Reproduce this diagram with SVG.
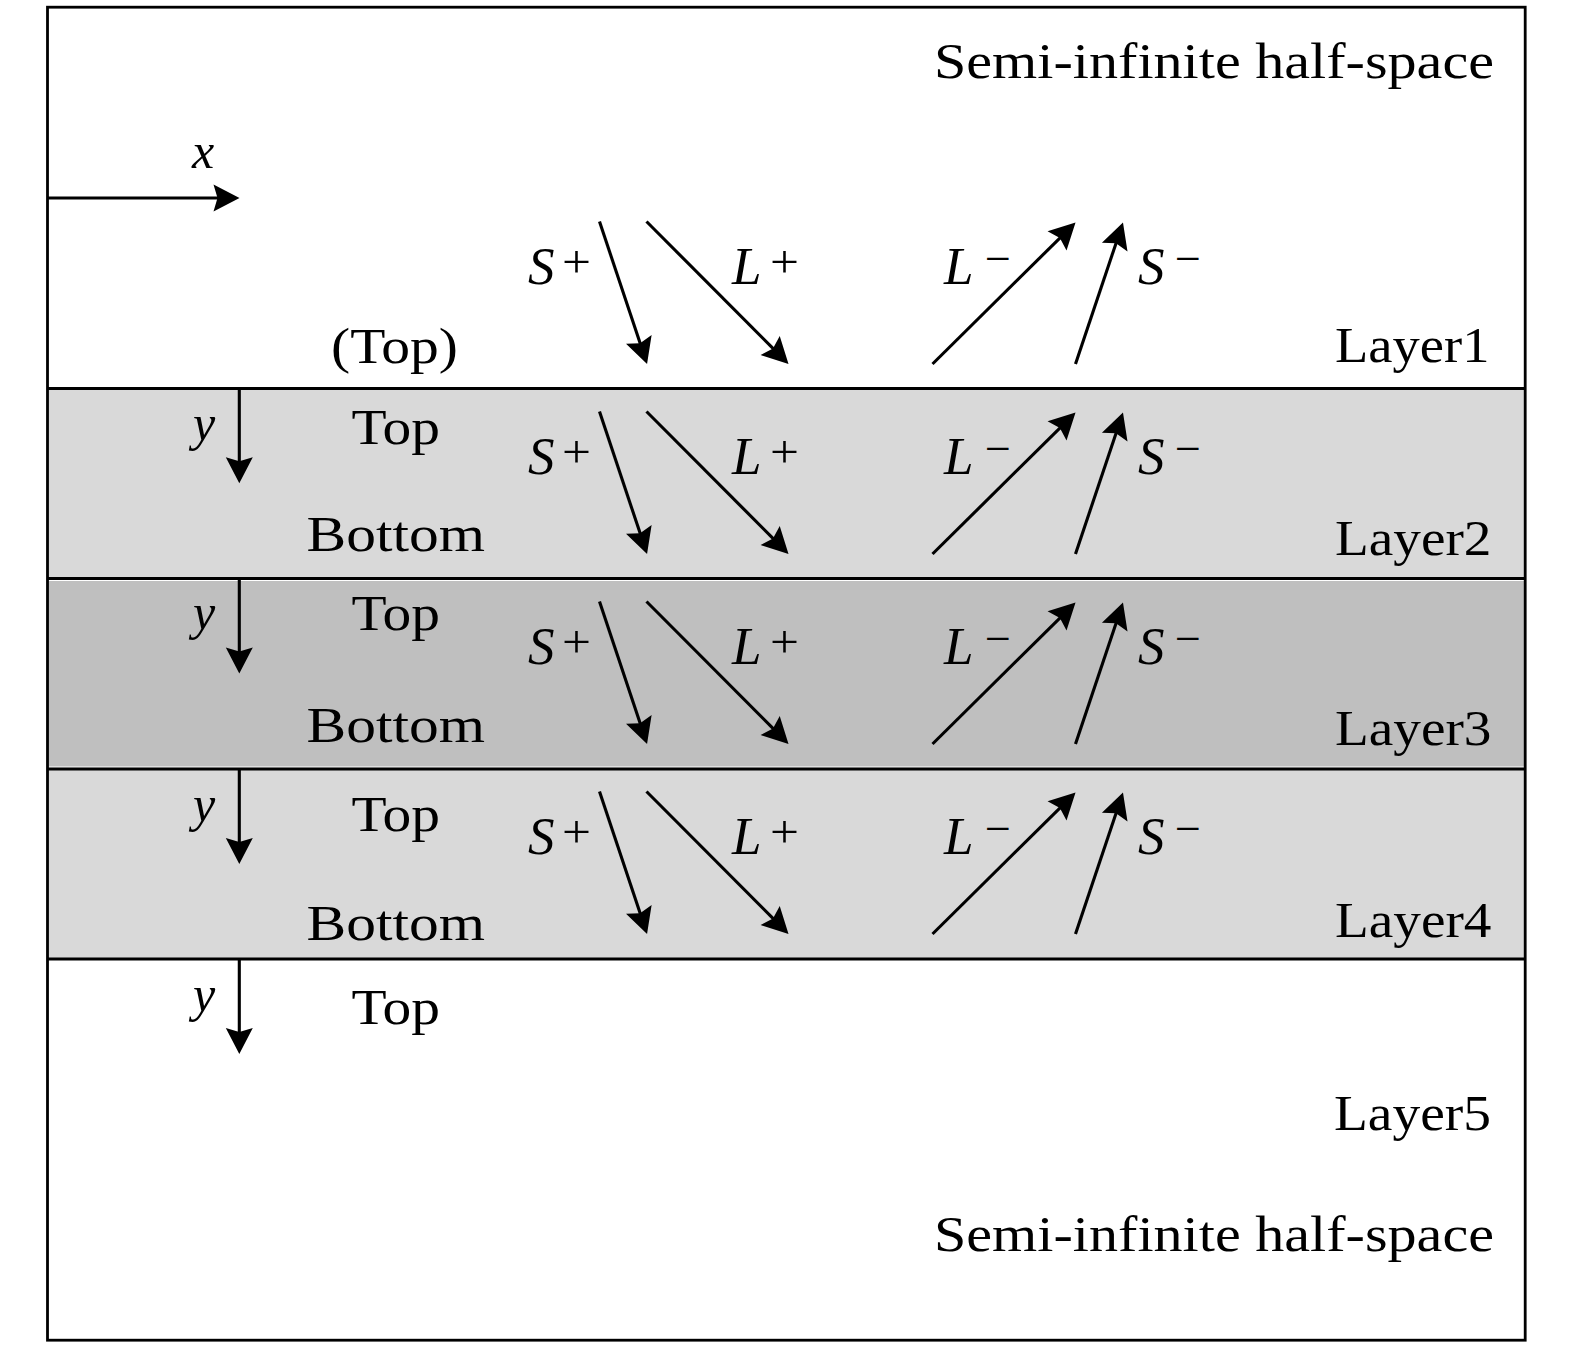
<svg xmlns="http://www.w3.org/2000/svg" width="1575" height="1348" viewBox="0 0 1575 1348">
<style>
.bd{stroke:#000;stroke-width:2.8;fill:none}
.wl{stroke:#fff;stroke-width:1.4;fill:none}
.ar{stroke:#000;stroke-width:3.1;fill:none;marker-end:url(#ah)}
text{font-family:"Liberation Serif","Times New Roman",serif;font-size:50px;fill:#000}
.it{font-style:italic}
.ml{font-size:53px}
.sup{font-size:46px;font-style:normal}
</style>
<defs>
<marker id="ah" markerUnits="userSpaceOnUse" markerWidth="40" markerHeight="40" refX="0" refY="0" orient="auto" overflow="visible">
<path d="M-5,-13.5 L21,0 L-5,13.5 L-1,0 Z" fill="#000"/>
</marker>
<g id="waves">
<line class="ar" x1="599.5" y1="221.5" x2="640.4" y2="344.1"/>
<line class="ar" x1="646.5" y1="221.5" x2="773.7" y2="349.1"/>
<line class="ar" x1="932.5" y1="364" x2="1060.6" y2="237.3"/>
<line class="ar" x1="1075.5" y1="364" x2="1116.3" y2="242.4"/>
</g>
<g id="wlabels">
<text class="ml"><tspan class="it" x="528" y="284">S</tspan><tspan class="sup" x="562" y="277" textLength="29" lengthAdjust="spacingAndGlyphs">+</tspan></text>
<text class="ml"><tspan class="it" x="732" y="284">L</tspan><tspan class="sup" x="770" y="277" textLength="29" lengthAdjust="spacingAndGlyphs">+</tspan></text>
<text class="ml"><tspan class="it" x="944" y="284">L</tspan><tspan class="sup" x="985" y="274" textLength="26" lengthAdjust="spacingAndGlyphs">−</tspan></text>
<text class="ml"><tspan class="it" x="1138" y="284">S</tspan><tspan class="sup" x="1175" y="274" textLength="26" lengthAdjust="spacingAndGlyphs">−</tspan></text>
</g>
</defs>

<rect x="0" y="0" width="1575" height="1348" fill="#fff"/>

<g id="layer1">
<text x="934" y="78" textLength="560" lengthAdjust="spacingAndGlyphs">Semi-infinite half-space</text>
<text x="331" y="363" textLength="127" lengthAdjust="spacingAndGlyphs">(Top)</text>
<text x="1335" y="362" textLength="154.5" lengthAdjust="spacingAndGlyphs">Layer1</text>
<text class="it" x="192" y="168">x</text>
</g>

<g id="layer2">
<rect x="47.5" y="388.5" width="1477.7" height="190" fill="#d9d9d9"/>
<text x="351.5" y="444" textLength="88.5" lengthAdjust="spacingAndGlyphs">Top</text>
<text x="306.5" y="551" textLength="178.5" lengthAdjust="spacingAndGlyphs">Bottom</text>
<text x="1335" y="555" textLength="156.5" lengthAdjust="spacingAndGlyphs">Layer2</text>
<text class="it" x="193" y="440">y</text>
</g>

<g id="layer3">
<rect x="47.5" y="578.5" width="1477.7" height="190.5" fill="#bfbfbf"/>
<line class="wl" x1="47.5" y1="580.4" x2="1525.2" y2="580.4"/>
<line class="wl" x1="47.5" y1="767.1" x2="1525.2" y2="767.1"/>
<text x="351.5" y="630" textLength="88.5" lengthAdjust="spacingAndGlyphs">Top</text>
<text x="306.5" y="742" textLength="178.5" lengthAdjust="spacingAndGlyphs">Bottom</text>
<text x="1335" y="745" textLength="156.5" lengthAdjust="spacingAndGlyphs">Layer3</text>
<text class="it" x="193" y="629">y</text>
</g>

<g id="layer4">
<rect x="47.5" y="769" width="1477.7" height="190" fill="#d9d9d9"/>
<text x="351.5" y="831" textLength="88.5" lengthAdjust="spacingAndGlyphs">Top</text>
<text x="306.5" y="940" textLength="178.5" lengthAdjust="spacingAndGlyphs">Bottom</text>
<text x="1335" y="937" textLength="156.5" lengthAdjust="spacingAndGlyphs">Layer4</text>
<text class="it" x="193" y="821">y</text>
</g>

<g id="layer5">
<text x="351.5" y="1024" textLength="88.5" lengthAdjust="spacingAndGlyphs">Top</text>
<text x="1334" y="1130" textLength="157" lengthAdjust="spacingAndGlyphs">Layer5</text>
<text x="934" y="1251" textLength="560" lengthAdjust="spacingAndGlyphs">Semi-infinite half-space</text>
<text class="it" x="193" y="1011">y</text>
</g>

<g id="boundaries">
<line class="bd" x1="47.5" y1="388.5" x2="1525.2" y2="388.5"/>
<line class="bd" x1="47.5" y1="578.5" x2="1525.2" y2="578.5"/>
<line class="bd" x1="47.5" y1="769" x2="1525.2" y2="769"/>
<line class="bd" x1="47.5" y1="959" x2="1525.2" y2="959"/>
<rect class="bd" x="47.5" y="7.2" width="1477.7" height="1333"/>
</g>

<g id="connectors">
<line class="ar" x1="47.5" y1="198" x2="218.5" y2="198"/>
<line class="ar" x1="239.3" y1="388.5" x2="239.3" y2="462.3"/>
<line class="ar" x1="239.3" y1="578.5" x2="239.3" y2="652.5"/>
<line class="ar" x1="239.3" y1="769" x2="239.3" y2="843"/>
<line class="ar" x1="239.3" y1="959" x2="239.3" y2="1033"/>
<use href="#waves"/>
<use href="#waves" transform="translate(0,190)"/>
<use href="#waves" transform="translate(0,380)"/>
<use href="#waves" transform="translate(0,570)"/>
</g>

<g id="wave-labels">
<use href="#wlabels"/>
<use href="#wlabels" transform="translate(0,190)"/>
<use href="#wlabels" transform="translate(0,380)"/>
<use href="#wlabels" transform="translate(0,570)"/>
</g>
</svg>
